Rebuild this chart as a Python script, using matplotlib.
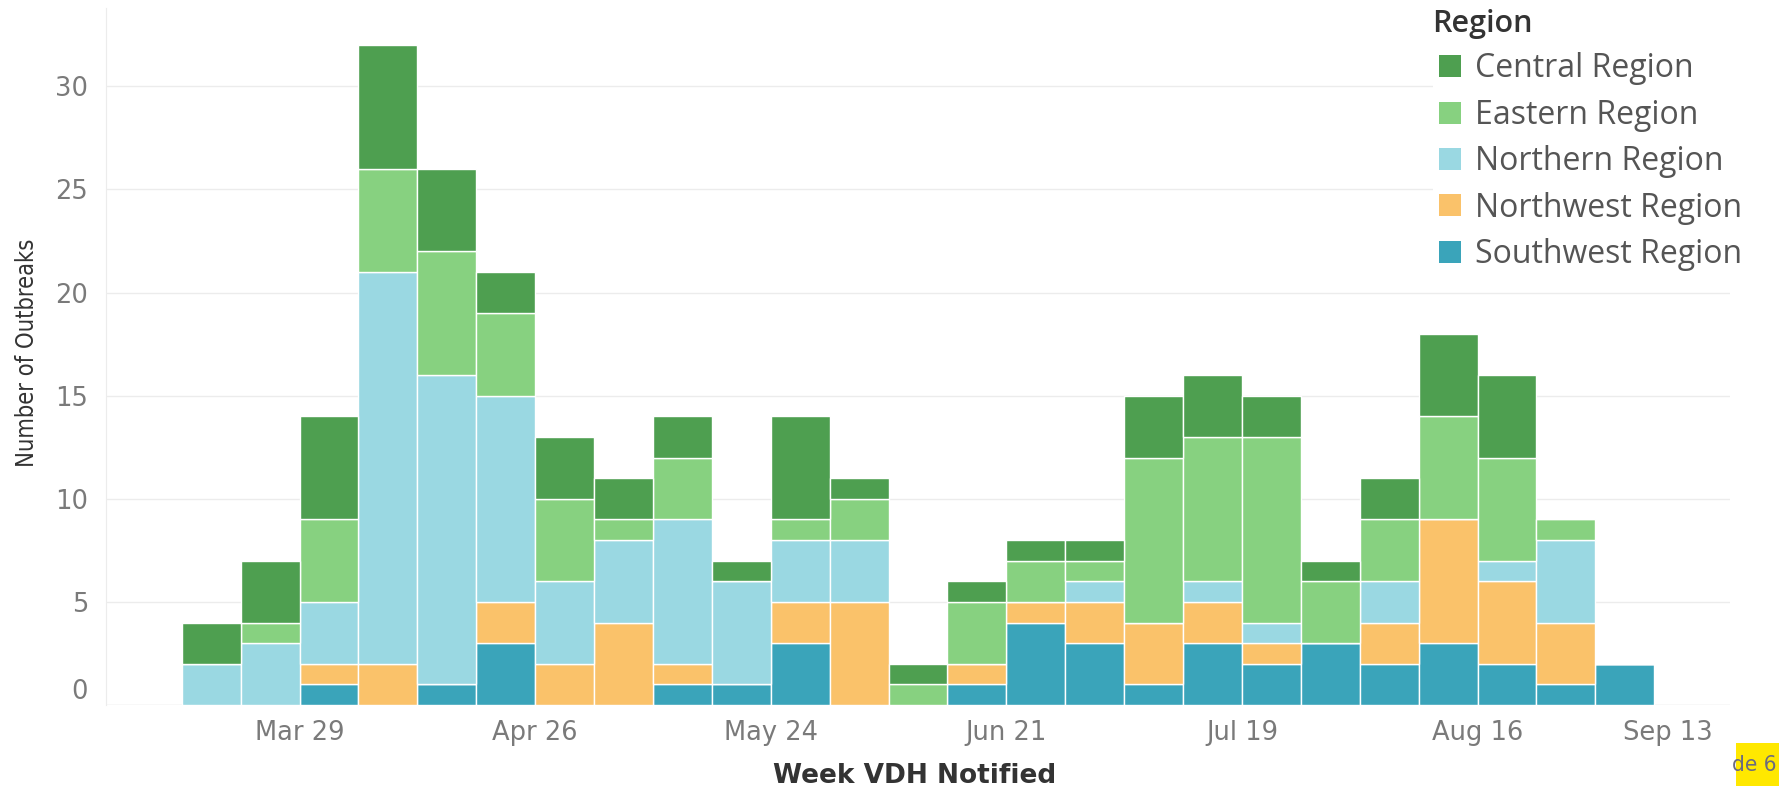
#!/usr/bin/env python3
import numpy as np
import pandas as pd
import matplotlib
matplotlib.use("Agg")
import matplotlib.pyplot as plt
import matplotlib.dates as mdates
from matplotlib import font_manager
from matplotlib.patches import Patch, Rectangle

# weekly outbreak counts by region (week starting Sunday)
weeks = pd.date_range("2020-03-15", periods=25, freq="7D")
regions = ["Central Region", "Eastern Region", "Northern Region",
           "Northwest Region", "Southwest Region"]
southwest = [0, 0, 1, 0, 1, 3, 0, 0, 1, 1, 3, 0, 0, 1, 4, 3, 1, 3, 2, 3, 2, 3, 2, 1, 2]
northwest = [0, 0, 1, 2, 0, 2, 2, 4, 1, 0, 2, 5, 0, 1, 1, 2, 3, 2, 1, 0, 2, 6, 4, 3, 0]
northern = [2, 3, 3, 19, 15, 10, 4, 4, 7, 5, 3, 3, 0, 0, 0, 1, 0, 1, 1, 0, 2, 0, 1, 4, 0]
eastern = [0, 1, 4, 5, 6, 4, 4, 1, 3, 0, 1, 2, 1, 3, 2, 1, 8, 7, 9, 3, 3, 5, 5, 1, 0]
central = [2, 3, 5, 6, 4, 2, 3, 2, 2, 1, 5, 1, 1, 1, 1, 1, 3, 3, 2, 1, 2, 4, 4, 0, 0]
tick_weeks = ["2020-03-29", "2020-04-26", "2020-05-24", "2020-06-21",
              "2020-07-19", "2020-08-16", "2020-09-13"]

colors = {
    "Central Region": "#4E9F50",
    "Eastern Region": "#87D180",
    "Northern Region": "#9AD8E2",
    "Northwest Region": "#FAC26A",
    "Southwest Region": "#3AA4BA",
}

W, H = 1779, 786


def narrow_font():
    # look for a condensed sans face, otherwise fall back to DejaVu
    for f in font_manager.fontManager.ttflist:
        if f.name == "Liberation Sans Narrow" and f.style == "normal":
            return {"family": "Liberation Sans Narrow"}, 1.0
    for f in font_manager.fontManager.ttflist:
        if f.name == "DejaVu Sans" and f.stretch == "condensed" and f.weight == 400:
            return {"family": "DejaVu Sans", "stretch": "condensed"}, 0.85
    return {"family": "DejaVu Sans"}, 0.76


def main():
    fig = plt.figure(figsize=(W / 100, H / 100), dpi=100)
    ax = fig.add_axes([106 / W, 1 - 705 / H, (1730 - 106) / W, (705 - 8) / H])

    x = mdates.date2num(weeks)
    # stacking order bottom -> top
    stack = [("Southwest Region", southwest), ("Northwest Region", northwest),
             ("Northern Region", northern), ("Eastern Region", eastern),
             ("Central Region", central)]
    bottom = np.zeros(len(weeks))
    for name, vals in stack:
        vals = np.array(vals, dtype=float)
        ax.bar(x, vals, width=7, bottom=bottom, align="edge",
               color=colors[name], edgecolor="white", linewidth=1, zorder=2)
        bottom += vals

    # axes styling
    ax.set_xlim(mdates.date2num(pd.Timestamp("2020-03-06")),
                mdates.date2num(pd.Timestamp("2020-09-15")))
    ax.set_ylim(0, 33.8)
    ax.set_yticks([0, 5, 10, 15, 20, 25, 30])
    ax.grid(axis="y", color="#ececec", linewidth=1, zorder=0)
    for s in ["top", "right", "bottom"]:
        ax.spines[s].set_visible(False)
    ax.spines["left"].set_color("#ececec")
    ax.axhline(0, color="#ececec", linewidth=1, zorder=1)

    ax.set_xticks(mdates.date2num(pd.to_datetime(tick_weeks)))
    ax.xaxis.set_major_formatter(mdates.DateFormatter("%b %d"))
    ax.tick_params(axis="both", length=0, labelsize=18.5, labelcolor="#7a7a7a")
    ax.tick_params(axis="x", pad=11)
    ax.tick_params(axis="y", pad=13)
    fig.canvas.draw()
    xl = ax.get_xticklabels()
    xl[-1].set_horizontalalignment("right")
    yl = ax.get_yticklabels()
    yl[0].set_verticalalignment("bottom")

    # axis titles
    nf, k = narrow_font()
    fig.text(27 / W, 1 - 353 / H, "Number of Outbreaks", rotation=90,
             ha="center", va="center", fontsize=20 * k, color="#333333", **nf)
    fig.text(915 / W, 1 - 783 / H, "Week VDH Notified", ha="center",
             va="baseline", fontsize=19, fontweight="bold", color="#333333")

    # legend title and entries
    fig.text(1432 / W, 1 - 9 / H, "Region", ha="left", va="top",
             family="Open Sans", fontsize=22, fontweight="semibold",
             color="#333333")
    handles = [Patch(facecolor=colors[r], edgecolor="none") for r in regions]
    leg = ax.legend(handles, regions, loc="upper left",
                    bbox_to_anchor=(1433 / W, 1 - 46 / H),
                    bbox_transform=fig.transFigure,
                    prop={"family": "Open Sans", "size": 23},
                    frameon=True, facecolor="white", edgecolor="none",
                    framealpha=1, handlelength=0.68, handleheight=0.68,
                    handletextpad=0.45, labelspacing=0.42, borderpad=0.2,
                    borderaxespad=0)
    for t in leg.get_texts():
        t.set_color("#555555")

    # slide number box at bottom right
    fig.patches.append(Rectangle((1736 / W, 0), (W - 1736) / W, 43 / H,
                                 transform=fig.transFigure,
                                 facecolor="#FFE800", edgecolor="none"))
    fig.text(1776 / W, 21 / H, "de 6", ha="right", va="center",
             fontsize=19 * k, color="#6b6b80", **nf)

    fig.savefig("out.png", dpi=100, facecolor="white")


if __name__ == "__main__":
    main()
